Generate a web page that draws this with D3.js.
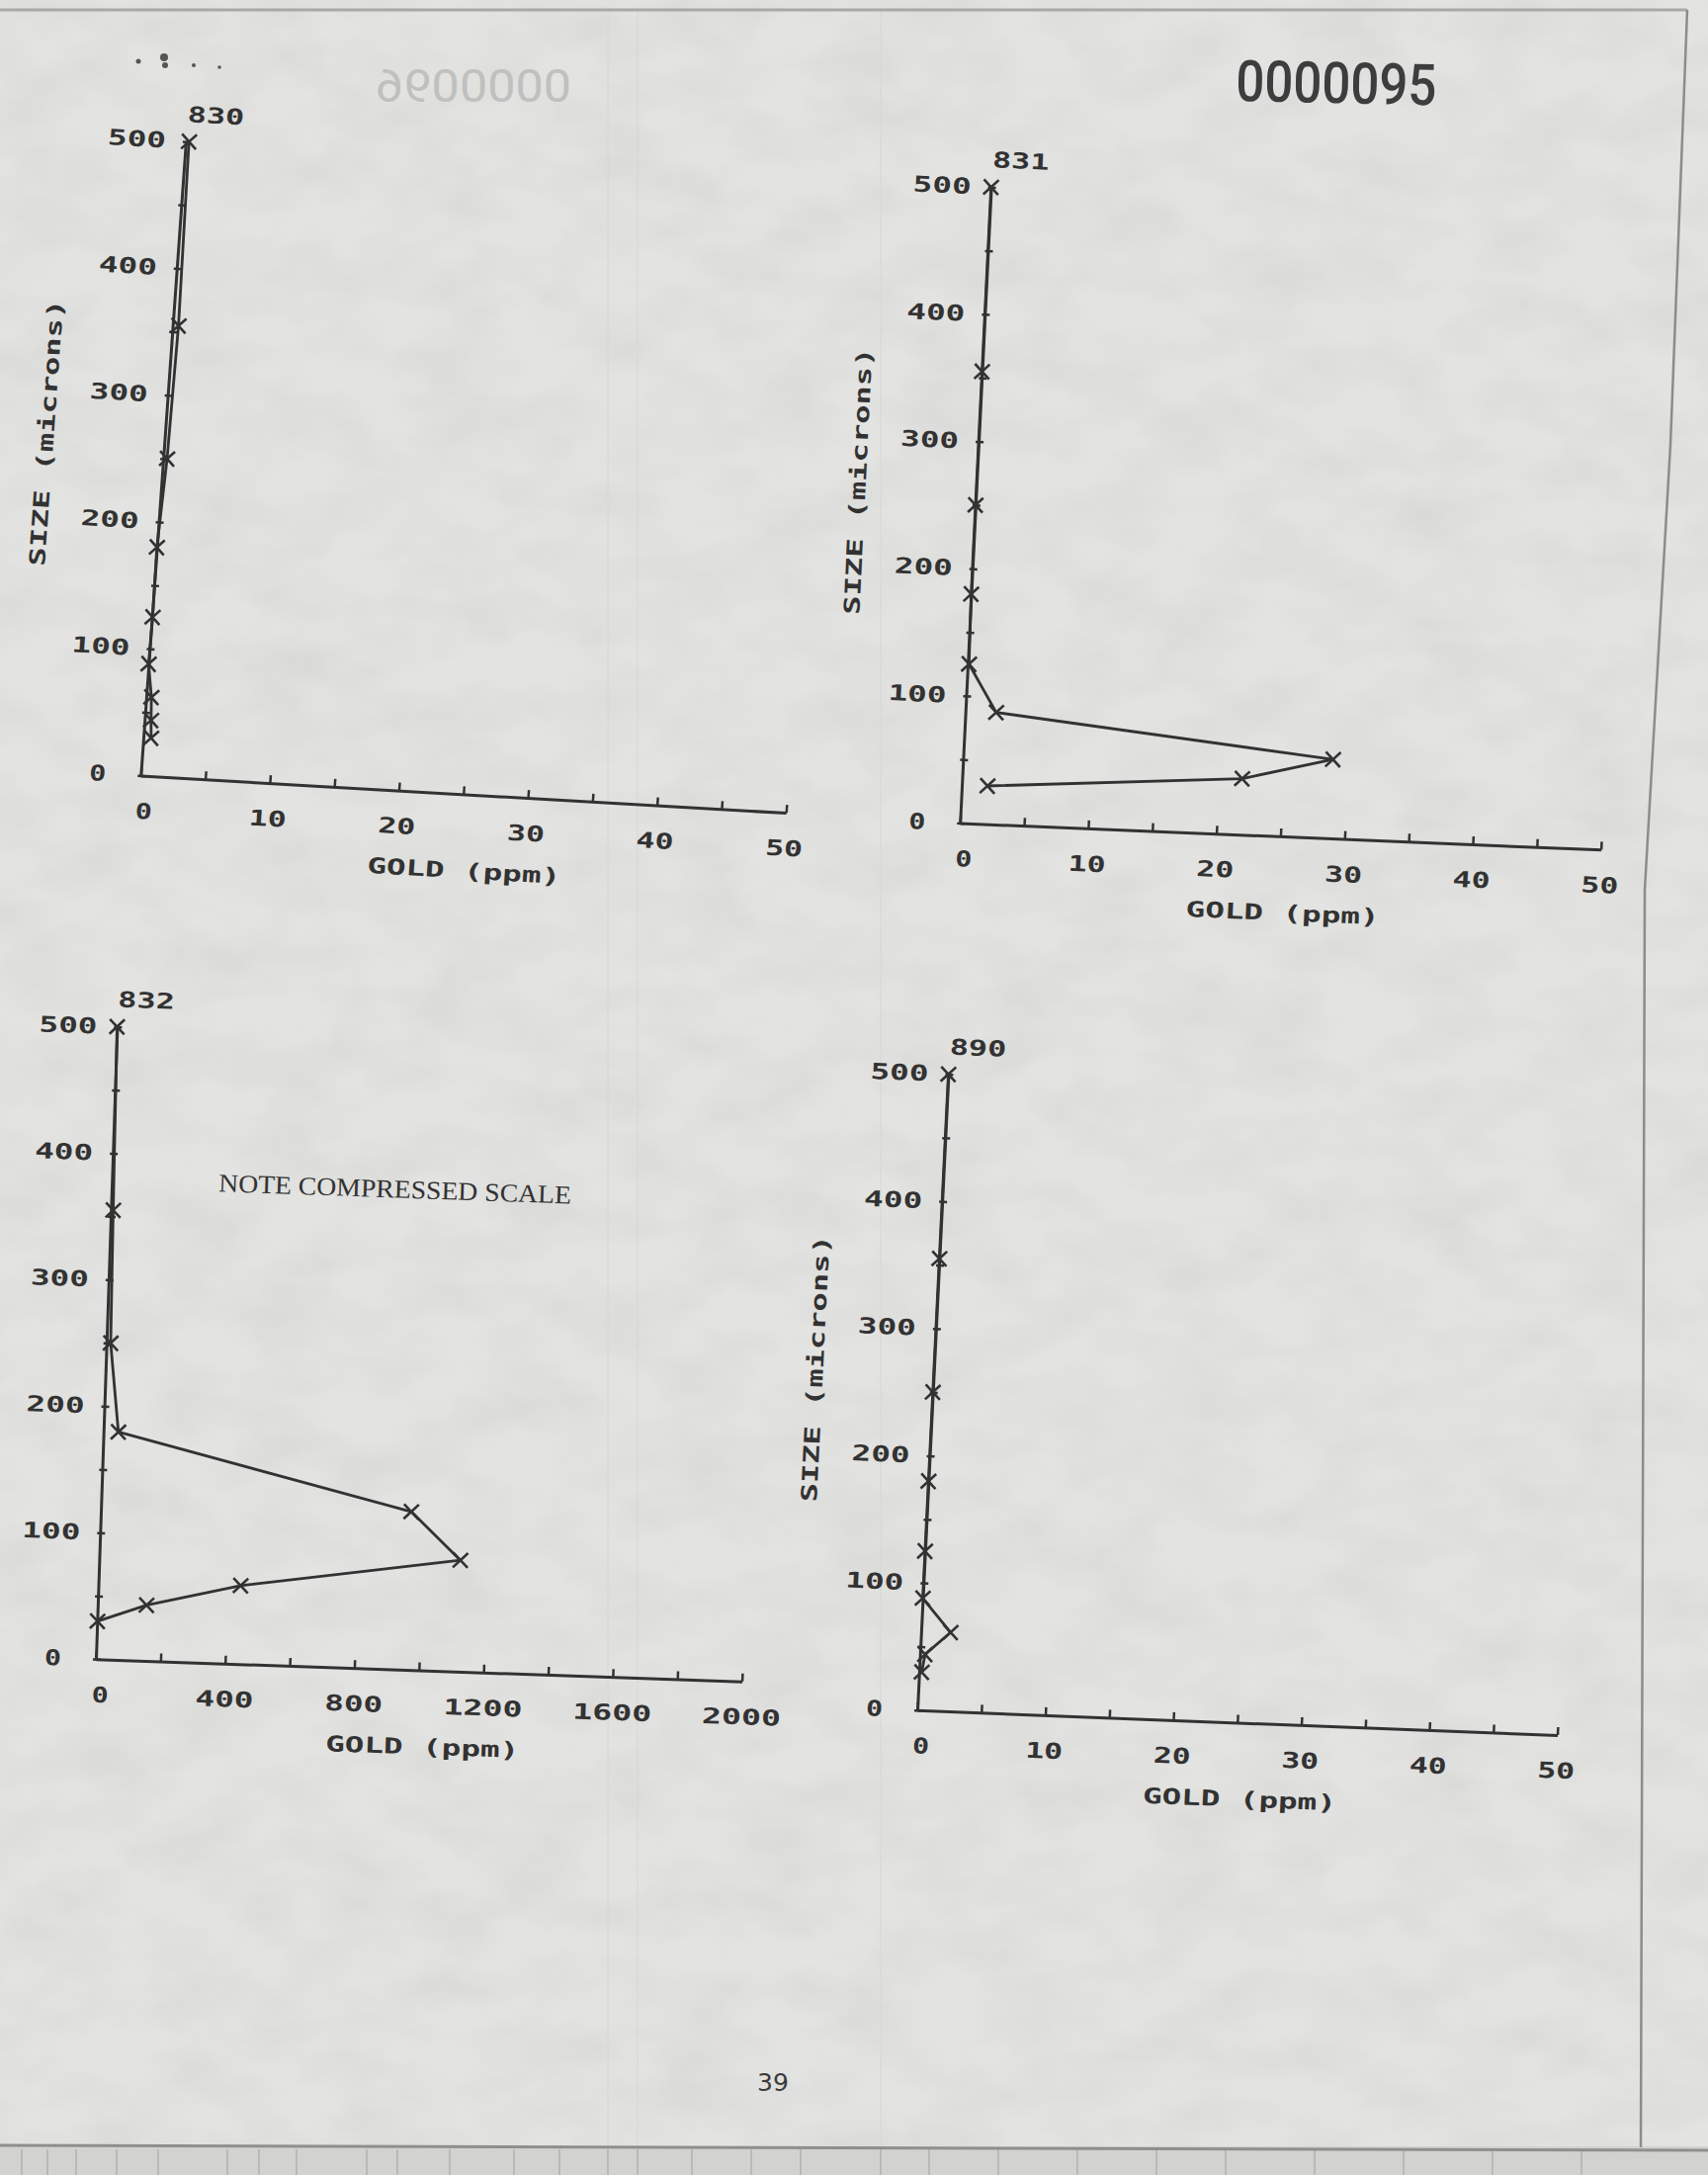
<!DOCTYPE html>
<html>
<head>
<meta charset="utf-8">
<script src="https://cdn.jsdelivr.net/npm/d3@7"></script>
<style>
  html, body { margin: 0; padding: 0; background: #e3e3e1; }
  svg { display: block; }
</style>
</head>
<body>
<svg id="page" width="1728" height="2200"></svg>
<script>
// ---------------- DATA ----------------
const sizes = [500, 355, 250, 180, 125, 88, 62, 44, 30];            // SIZE (microns)
const gold830 = [0.25, 0.45, 0.3, 0.0, 0.05, 0.0, 0.4, 0.5, 0.6];   // GOLD (ppm)
const gold831 = [0.0, 0.0, 0.0, 0.0, 0.1, 2.4, 28.8, 21.8, 2.0];
const gold832 = [0, 7, 13, 46, 960, 1117, 440, 151, 1];
const gold890 = [0.0, 0.0, 0.0, 0.0, 0.0, 0.0, 2.3, 0.4, 0.2];
const sampleNames = ["830", "831", "832", "890"];

const goldTicks = [0, 5, 10, 15, 20, 25, 30, 35, 40, 45, 50];
const goldLabels = [0, 10, 20, 30, 40, 50];
const goldTicksCompressed = [0, 200, 400, 600, 800, 1000, 1200, 1400, 1600, 1800, 2000];
const goldLabelsCompressed = [0, 400, 800, 1200, 1600, 2000];
const sizeTicks = [0, 50, 100, 150, 200, 250, 300, 350, 400, 450, 500];
const sizeLabels = [0, 100, 200, 300, 400, 500];

const xTitle = "GOLD (ppm)";
const yTitle = "SIZE (microns)";
const noteText = "NOTE COMPRESSED SCALE";
const pageNumber = "39";
const stampText = "0000095";
const bleedText = "0000096";

// ---------------- LAYOUT ----------------
const ink = "#323232";
const panels = [
  { name: sampleNames[0], gold: gold830, max: 50,   ticks: goldTicks, labels: goldLabels,
    ox: 142.3, oy: 784.5,  ax: 3.29, ay: 4.07, W: 654, H: 643, showY: true,  note: false },
  { name: sampleNames[1], gold: gold831, max: 50,   ticks: goldTicks, labels: goldLabels,
    ox: 971.2, oy: 832.5,  ax: 2.37, ay: 2.80, W: 649, H: 644, showY: true,  note: false },
  { name: sampleNames[2], gold: gold832, max: 2000, ticks: goldTicksCompressed, labels: goldLabelsCompressed,
    ox: 97.0,  oy: 1678.2, ax: 1.97, ay: 1.92, W: 654, H: 640, showY: false, note: true },
  { name: sampleNames[3], gold: gold890, max: 50,   ticks: goldTicks, labels: goldLabels,
    ox: 928.0, oy: 1729.8, ax: 2.23, ay: 2.80, W: 648, H: 644, showY: true,  note: false }
];

const svg = d3.select("#page");
const rad = Math.PI / 180;

// ---------------- PAGE ----------------
const defs = svg.append("defs");
const f = defs.append("filter").attr("id", "grain").attr("x", 0).attr("y", 0).attr("width", 1).attr("height", 1);
f.append("feTurbulence").attr("type", "fractalNoise").attr("baseFrequency", "0.012 0.02").attr("numOctaves", 3).attr("seed", 7);
f.append("feColorMatrix").attr("type", "matrix")
  .attr("values", "0 0 0 0 0.45  0 0 0 0 0.45  0 0 0 0 0.45  0.35 0 0 0 -0.12");

svg.append("rect").attr("width", 1728).attr("height", 2200).attr("fill", "#e3e3e1");
svg.append("rect").attr("width", 1728).attr("height", 2172).attr("filter", "url(#grain)");
svg.append("rect").attr("x", 0).attr("y", 2171).attr("width", 1728).attr("height", 29).attr("fill", "#d2d2d0");
const stripeXs = [22, 48, 77, 118, 160, 230, 262, 300, 371, 402, 455, 520, 566, 615, 645, 700, 760, 810, 891, 940, 1010, 1090, 1170, 1240, 1330, 1420, 1510, 1600];
svg.append("g").selectAll("line").data(stripeXs).join("line")
  .attr("x1", d => d).attr("x2", d => d).attr("y1", 2174).attr("y2", 2200)
  .attr("stroke", "#a9a9a7").attr("stroke-width", 1.2);
svg.append("g").selectAll("line").data([615, 645, 891]).join("line")
  .attr("x1", d => d).attr("x2", d => d).attr("y1", 10).attr("y2", 2172)
  .attr("stroke", "#d6d6d4").attr("stroke-width", 1);
svg.append("line").attr("x1", 0).attr("y1", 10).attr("x2", 1707).attr("y2", 10)
  .attr("stroke", "#a8a8a6").attr("stroke-width", 3);
svg.append("line").attr("x1", 0).attr("y1", 2170).attr("x2", 1728).attr("y2", 2175)
  .attr("stroke", "#8f8f8d").attr("stroke-width", 3);
svg.append("path").attr("d", "M1707,10 L1690,450 L1664,900 L1660,2172")
  .attr("fill", "none").attr("stroke", "#8c8c8a").attr("stroke-width", 2.5);

// stray marks at top-left
svg.append("g").selectAll("circle").data([[140, 62, 2.5], [166, 58, 4], [167, 66, 3], [196, 66, 2], [222, 68, 1.8]]).join("circle")
  .attr("cx", d => d[0]).attr("cy", d => d[1]).attr("r", d => d[2]).attr("fill", "#555");

// stamp and bleed-through
svg.append("text").text(stampText)
  .attr("transform", "translate(1250,102) rotate(1.2)")
  .attr("font-family", "Roboto, 'DejaVu Sans', sans-serif").attr("font-size", 58).attr("font-weight", 500)
  .attr("textLength", 203).attr("lengthAdjust", "spacingAndGlyphs").attr("fill", "#3d3d3d");
svg.append("text").text(bleedText)
  .attr("transform", "translate(578,103) scale(-1,1)")
  .attr("font-family", "Roboto, 'DejaVu Sans', sans-serif").attr("font-size", 46).attr("font-weight", 400)
  .attr("textLength", 198).attr("lengthAdjust", "spacingAndGlyphs").attr("fill", "#c0c0be");

svg.append("text").text(pageNumber)
  .attr("x", 782).attr("y", 2115).attr("text-anchor", "middle")
  .attr("font-family", "'DejaVu Sans', sans-serif").attr("font-size", 25).attr("fill", "#3a3a3a");

// ---------------- PLOTTER TEXT ----------------
function plotterText(sel, str, perChar) {
  sel.text(str)
    .attr("font-family", "'DejaVu Sans Mono', monospace")
    .attr("font-weight", "bold")
    .attr("font-size", 22)
    .attr("fill", ink)
    .attr("textLength", str.length * perChar - 4)
    .attr("lengthAdjust", "spacingAndGlyphs");
}

// ---------------- PANELS ----------------
panels.forEach(p => {
  const m = [Math.cos(p.ax * rad), Math.sin(p.ax * rad), -Math.sin(p.ay * rad), Math.cos(p.ay * rad), p.ox, p.oy];
  const g = svg.append("g").attr("transform", `matrix(${m.join(",")})`);
  const x = d3.scaleLinear().domain([0, p.max]).range([0, p.W]);
  const y = d3.scaleLinear().domain([0, 500]).range([0, -p.H]);

  // x axis
  const xAxis = d3.axisBottom(x).tickValues(p.ticks).tickSizeInner(-8).tickSizeOuter(0).tickPadding(28)
    .tickFormat(d => p.labels.includes(d) ? String(d) : "");
  const gx = g.append("g").call(xAxis);
  gx.select(".domain").attr("stroke", ink).attr("stroke-width", 3);
  gx.selectAll(".tick line").attr("stroke", ink).attr("stroke-width", 2.5);
  gx.selectAll(".tick text").filter(d => !p.labels.includes(d)).remove();
  gx.selectAll(".tick text").each(function (d) {
    plotterText(d3.select(this), String(d), 21);
    if (d === 0) d3.select(this).attr("x", 5);
  });

  // y axis
  const yAxis = d3.axisLeft(y).tickValues(sizeTicks).tickSizeInner(-6).tickSizeOuter(0).tickPadding(20)
    .tickFormat(d => sizeLabels.includes(d) ? String(d) : "");
  const gy = g.append("g").call(yAxis);
  gy.select(".domain").attr("stroke", ink).attr("stroke-width", 3);
  gy.selectAll(".tick line").attr("x1", -3).attr("x2", 5).attr("stroke", ink).attr("stroke-width", 2.5);
  gy.selectAll(".tick text").filter(d => !sizeLabels.includes(d)).remove();
  gy.selectAll(".tick text").each(function (d) {
    plotterText(d3.select(this), String(d), 21);
    if (d === 0) d3.select(this).attr("x", -35);
  });

  // axis titles
  plotterText(g.append("text").attr("x", p.W / 2 + 6).attr("y", 85).attr("text-anchor", "middle"), xTitle, 20);
  if (p.showY) {
    plotterText(g.append("text")
      .attr("transform", `translate(-120,${y(265)}) rotate(-90)`)
      .attr("text-anchor", "middle").attr("dy", "0.36em"), yTitle, 19.6);
  }
  // sample title
  plotterText(g.append("text").attr("x", 0).attr("y", -p.H - 20), p.name, 20.5);

  // data
  const pts = sizes.map((s, i) => ({ size: s, gold: p.gold[i] }));
  g.append("path").datum(pts)
    .attr("d", d3.line().x(d => x(d.gold)).y(d => y(d.size)))
    .attr("fill", "none").attr("stroke", ink).attr("stroke-width", 2.8).attr("stroke-linejoin", "round");
  g.append("g").selectAll("path").data(pts).join("path")
    .attr("transform", d => `translate(${x(d.gold)},${y(d.size)})`)
    .attr("d", "M-7.5,-7.5L7.5,7.5M-7.5,7.5L7.5,-7.5")
    .attr("fill", "none").attr("stroke", ink).attr("stroke-width", 2.6);

  if (p.note) {
    g.append("text").text(noteText)
      .attr("x", 108).attr("y", -477)
      .attr("font-family", "'Liberation Serif', 'Times New Roman', serif")
      .attr("font-size", 26).attr("fill", ink)
      .attr("textLength", 357).attr("lengthAdjust", "spacingAndGlyphs");
  }
});
</script>
</body>
</html>
